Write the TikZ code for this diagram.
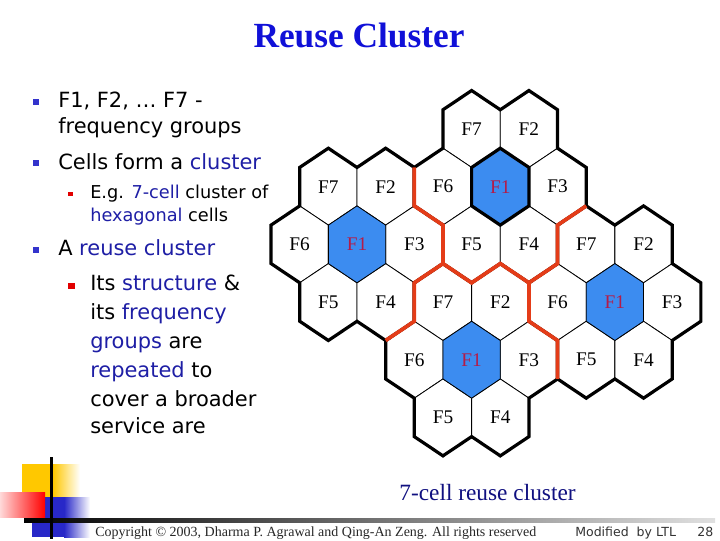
\documentclass[tikz,border=0pt]{standalone}
\usepackage{fontspec}
\setmainfont{Liberation Serif}
\newfontfamily\tahoma{DejaVu Sans}

\definecolor{titleblue}{RGB}{16,16,216}
\definecolor{txtblue}{RGB}{30,30,165}
\definecolor{dotblue}{RGB}{51,51,204}
\definecolor{dotred}{RGB}{225,0,0}
\definecolor{hexblue}{RGB}{60,140,240}
\definecolor{labred}{RGB}{180,28,72}
\definecolor{seamred}{RGB}{228,60,24}
\definecolor{capnavy}{RGB}{16,16,128}
\definecolor{decoyellow}{RGB}{255,200,0}
\definecolor{decoblue}{RGB}{40,40,200}

\tikzset{
  cell/.style={draw=black, line width=0.6pt, fill=white},
  celltext/.style={inner sep=0pt, font=\fontsize{14.5}{16}\selectfont},
  rim/.style={draw=black, line width=2.4pt, line join=miter},
  seam/.style={draw=seamred, line width=2.8pt},
  bodytext/.style={anchor=base west, inner sep=0pt, font=\tahoma\fontsize{15.7}{18}\selectfont},
  subtext/.style={bodytext, font=\tahoma\fontsize{13.3}{15}\selectfont},
  dotone/.style={rectangle, fill=dotblue, inner sep=0pt, minimum size=4.5pt},
  dottwo/.style={rectangle, fill=dotred, inner sep=0pt, minimum size=3.3pt},
}

\begin{document}
\begin{tikzpicture}[x=0.75pt, y=-0.75pt]
    \useasboundingbox (0,0) rectangle (720,540);

    \node[anchor=base, inner sep=0pt, text=titleblue, font=\bfseries\fontsize{26.5}{30}\selectfont] (title) at (359,47) {Reuse Cluster};

    % bullet list
    \node[dotone] (d1) at (36,101.5) {};
    \node[bodytext] (b1) at (58,107.5) {F1, F2, … F7 -};
    \node[bodytext] (b1b) at (58,133.5) {frequency groups};
    \node[dotone] (d2) at (36,163) {};
    \node[bodytext] (b2) at (58,169) {Cells form a \textcolor{txtblue}{cluster}};
    \node[dottwo] (d3) at (70.5,194) {};
    \node[subtext] (b3) at (90,198) {E.g. \textcolor{txtblue}{7-cell} cluster of};
    \node[subtext] (b3b) at (90,221.5) {\textcolor{txtblue}{hexagonal} cells};
    \node[dotone] (d4) at (36,250) {};
    \node[bodytext] (b4) at (58,255.5) {A \textcolor{txtblue}{reuse cluster}};
    \node[dottwo, minimum size=5pt] (d5) at (71.5,286) {};
    \node[bodytext] (b5) at (90,290.5) {Its \textcolor{txtblue}{structure} \&};
    \node[bodytext] (b5b) at (90,319.5) {its \textcolor{txtblue}{frequency}};
    \node[bodytext] (b5c) at (90,348) {\textcolor{txtblue}{groups} are};
    \node[bodytext] (b5d) at (90,377) {\textcolor{txtblue}{repeated} to};
    \node[bodytext] (b5e) at (90,406) {cover a broader};
    \node[bodytext] (b5f) at (90,433.5) {service are};

    % hexagon grid, one unit = half a cell across
    \begin{scope}[xshift=375.2pt, yshift=-140pt, x=21.49pt, y=-14.42pt]
        \foreach \cx/\cy/\cn in {0/0/top, -5/3/lft, 4/6/rgt, -1/9/bot} {
            \begin{scope}[shift={(\cx,\cy)}]
                \foreach \dx/\dy/\lab in {-1/-3/F7, 1/-3/F2, -2/0/F6, 2/0/F3, -1/3/F5, 1/3/F4} {
                    \draw[cell] (\dx,\dy) ++(0,-2) -- ++(1,1) -- ++(0,2) -- ++(-1,1) -- ++(-1,-1) -- ++(0,-2) -- cycle;
                    \node[celltext] (\cn\lab) at (\dx,\dy) {\lab};
                }
                \draw[cell, fill=hexblue] (0,-2) -- ++(1,1) -- ++(0,2) -- ++(-1,1) -- ++(-1,-1) -- ++(0,-2) -- cycle;
                \node[celltext, text=labred] (\cn F1) at (0,0) {F1};
            \end{scope}
        }

        \foreach \cx/\cy in {0/0, -5/3, 4/6, -1/9}
            \draw[rim, shift={(\cx,\cy)}] (-1,-5) -- (0,-4) -- (1,-5) -- (2,-4) -- (2,-2) -- (3,-1) -- (3,1) -- (2,2) -- (2,4) -- (1,5) -- (0,4) -- (-1,5) -- (-2,4) -- (-2,2) -- (-3,1) -- (-3,-1) -- (-2,-2) -- (-2,-4) -- cycle;

        \draw[seam] (-3,-1) -- (-3,1) -- (-2,2) -- (-2,4) -- (-3,5) -- (-3,7) -- (-4,8);
        \draw[seam] (-2,4) -- (-1,5) -- (0,4) -- (1,5) -- (1,7) -- (2,8) -- (2,10);
        \draw[seam] (3,1) -- (2,2) -- (2,4) -- (1,5);

        \draw[rim] (0,-2) -- (1,-1) -- (1,1) -- (0,2) -- (-1,1) -- (-1,-1) -- cycle;
    \end{scope}

    \node[anchor=base, inner sep=0pt, text=capnavy, font=\fontsize{17.5}{20}\selectfont] (caption) at (487.5,500) {7-cell reuse cluster};

    % corner decoration
    \fill[decoyellow] (22,464) rectangle (53,498);
    \shade[left color=decoyellow, right color=white] (53,464) rectangle (80,498);
    \fill[decoblue] (32,497) rectangle (64,537);
    \shade[left color=decoblue, right color=white] (64,497) rectangle (90,537);
    \shade[left color=red!15, right color=red] (0,492) rectangle (45,517);
    \shade[left color=black, right color=black!12] (24,518.8) rectangle (715,522.2);
    \fill[black] (50.2,457) rectangle (53.2,539);

    \node[anchor=base west, inner sep=0pt, text=black!85, font=\fontsize{10.5}{12}\selectfont] (copy) at (95,536) {Copyright © 2003, Dharma P. Agrawal and Qing-An Zeng. All rights reserved};
    \node[anchor=base west, inner sep=0pt, text=black!80, font=\tahoma\fontsize{9.4}{11}\selectfont] (mod) at (575,536) {Modified\ \ by LTL};
    \node[anchor=base west, inner sep=0pt, text=black!80, font=\tahoma\fontsize{9.4}{11}\selectfont] (page) at (697,536) {28};
\end{tikzpicture}
\end{document}
